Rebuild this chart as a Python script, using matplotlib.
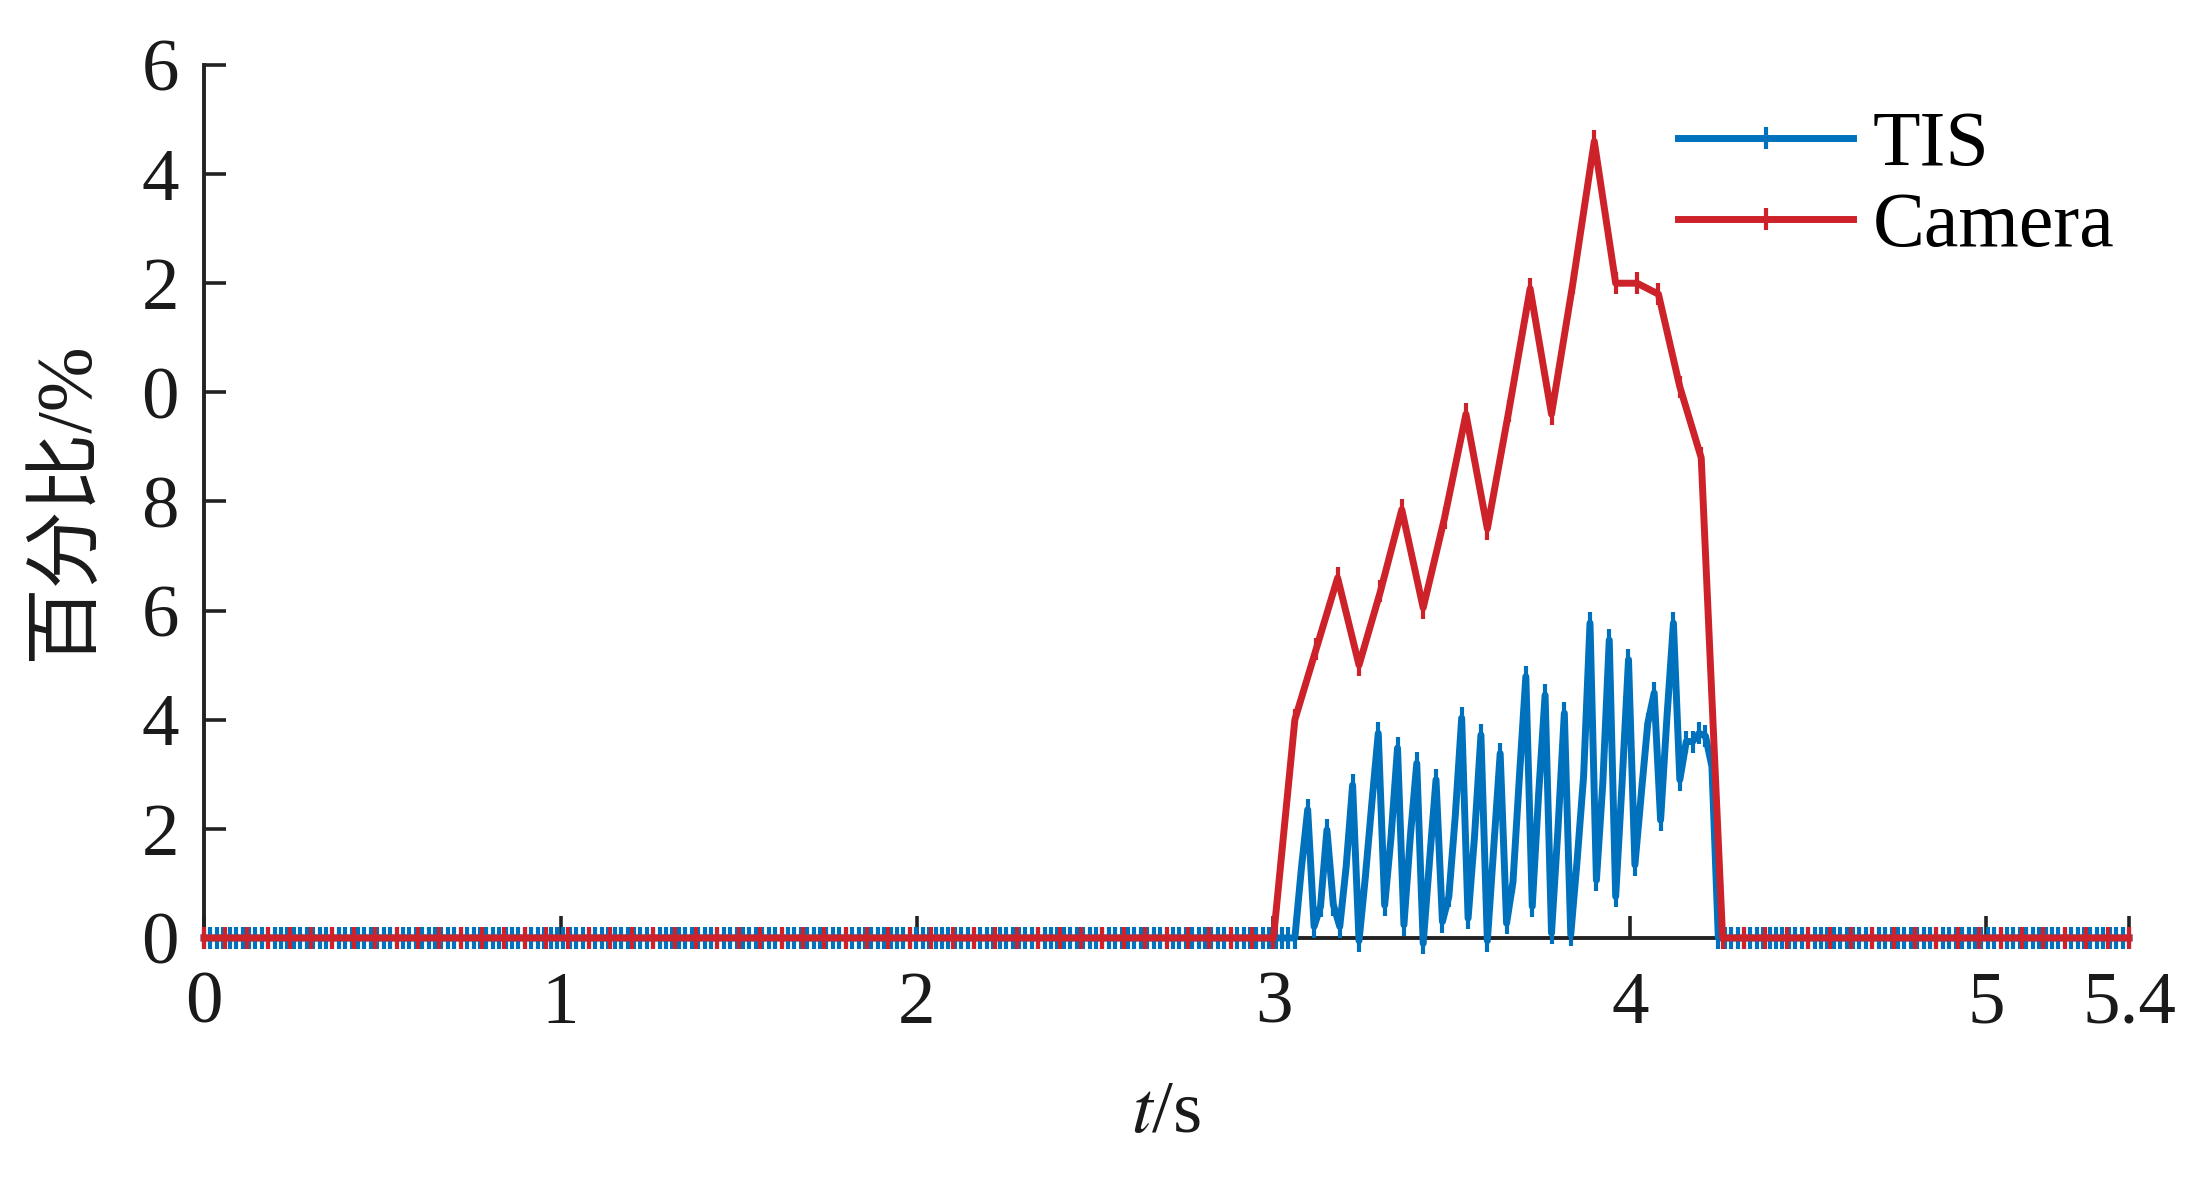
import numpy as np
import matplotlib
matplotlib.use("Agg")
import matplotlib.pyplot as plt

# ---- data ----
T_END = 5.4

# TIS: one sample every 0.018 s, zero except the burst starting at 3.06 s
TIS_STEP = 0.018
TIS_BURST_START = 3.06
TIS_BURST = [0, 1.25, 2.35, 0.21, 0.58, 1.98, 0.61, 0.21, 1.31, 2.8,
             -0.05, 1.13, 2.47, 3.75, 0.6, 1.86, 3.48, 0.24, 1.86, 3.2,
             -0.1, 1.43, 2.9, 0.3, 0.76, 2.23, 4.03, 0.36, 1.86, 3.72,
             -0.05, 1.67, 3.38, 0.27, 1.03, 2.96, 4.79, 0.58, 2.65, 4.45,
             0.09, 1.98, 4.12, 0.06, 1.43, 2.96, 5.77, 1.06, 2.84, 5.46,
             0.76, 2.84, 5.1, 1.34, 2.65, 3.93, 4.49, 2.16, 4.06, 5.77,
             2.9, 3.6, 3.6, 3.75, 3.7, 3.14, 0]

# Camera: one sample every 0.06 s, burst starting at 3.0 s
CAM_STEP = 0.06
CAM_BURST_START = 3.0
CAM_BURST = [0, 4.0, 5.3, 6.6, 5.0, 6.35, 7.85, 6.05, 7.7, 9.6,
             7.5, 9.65, 11.9, 9.6, 12.0, 14.6, 12.0, 12.0, 11.8, 10.1,
             8.8, 0]

X_TICKS = [0, 1, 2, 3, 4, 5, 5.4]
X_TICKLABELS = ["0", "1", "2", "3", "4", "5", "5.4"]
Y_TICKS = [0, 2, 4, 6, 8, 10, 12, 14, 16]
Y_TICKLABELS = ["0", "2", "4", "6", "8", "0", "2", "4", "6"]

BLUE = "#0072BD"
RED = "#CD2229"


def series(step, start, burst):
    n = int(round(T_END / step)) + 1
    t = np.arange(n) * step
    y = np.zeros(n)
    i0 = int(round(start / step))
    y[i0:i0 + len(burst)] = burst
    return t, y


t_tis, y_tis = series(TIS_STEP, TIS_BURST_START, TIS_BURST)
t_cam, y_cam = series(CAM_STEP, CAM_BURST_START, CAM_BURST)

plt.rcParams["font.family"] = ["Liberation Serif", "Noto Sans CJK SC"]
plt.rcParams["mathtext.fontset"] = "stix"
FS = 27
TXT = "#1a1a1a"

fig = plt.figure(figsize=(2211 / 200, 1190 / 200), dpi=200)
ax = fig.add_axes([0.0923, 0.2118, 0.8706, 0.7336])

style = dict(lw=2.5, marker="|", ms=8, mew=1.5, clip_on=False)
ax.plot(t_tis, y_tis, color=BLUE, label="TIS", **style)
ax.plot(t_cam, y_cam, color=RED, label="Camera", **style)

ax.set_xlim(0, T_END)
ax.set_ylim(0, 16)
ax.set_xticks(X_TICKS)
ax.set_xticklabels(X_TICKLABELS)
ax.set_yticks(Y_TICKS)
ax.set_yticklabels(Y_TICKLABELS)

for s in ("top", "right"):
    ax.spines[s].set_visible(False)
for s in ("left", "bottom"):
    ax.spines[s].set_linewidth(1.4)
    ax.spines[s].set_color("#222222")
    ax.spines[s].set_zorder(0.5)

ax.tick_params(direction="in", length=7.9, width=1.3, color="#222222",
               labelsize=FS, labelcolor=TXT)
ax.tick_params(axis="x", pad=12)
ax.tick_params(axis="y", pad=9)

ax.set_xlabel("$t$/s", fontsize=FS, color=TXT, labelpad=15)
ax.set_ylabel("百分比/%", fontsize=28, color=TXT, labelpad=14)

leg = fig.legend(loc="upper left", bbox_to_anchor=(0.759, 0.907),
                 frameon=False, fontsize=28, handlelength=2.25,
                 handletextpad=0.25, labelspacing=0.12, borderpad=0,
                 borderaxespad=0)
for txt in leg.get_texts():
    txt.set_color("black")

fig.savefig("out.png", dpi=200)
